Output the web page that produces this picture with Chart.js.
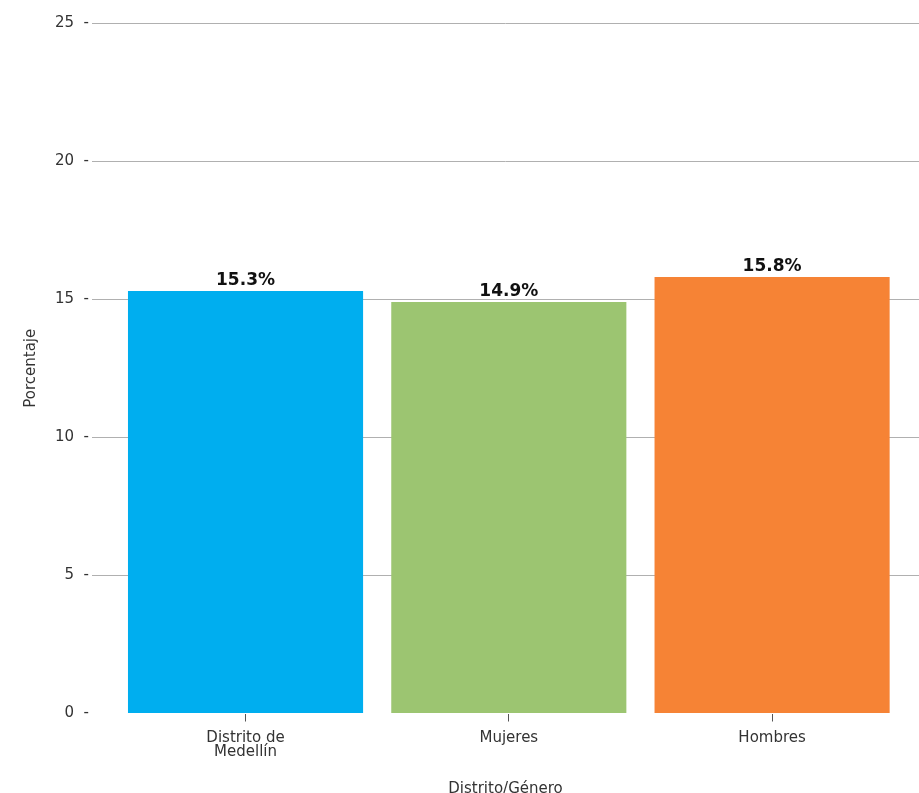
<!DOCTYPE html>
<html>
<head>
<meta charset="utf-8">
<script src="https://cdn.jsdelivr.net/npm/chart.js@4"></script>
<style>
  html, body { margin: 0; padding: 0; background: #fff; overflow: hidden; height: 793px; }
  #wrap { width: 919px; height: 798px; }
</style>
</head>
<body>
<div id="wrap"><canvas id="myChart"></canvas></div>
<script>
var labels = [["Distrito de", "Medellín"], "Mujeres", "Hombres"];
var values = [15.3, 14.9, 15.8];
var colors = ["#00AEEF", "#9CC571", "#F68335"];
var yTicks = [0, 5, 10, 15, 20, 25];

var fontFam = "'DejaVu Sans', sans-serif";

// draws "15.3%" on top of each bar
var barLabels = {
  id: "barLabels",
  afterDatasetsDraw: function(chart) {
    var c = chart.ctx;
    var meta = chart.getDatasetMeta(0);
    c.save();
    c.font = "bold 17px " + fontFam;
    c.fillStyle = "#111";
    c.textAlign = "center";
    c.textBaseline = "bottom";
    meta.data.forEach(function(bar, i) {
      c.fillText(values[i].toFixed(1) + "%", bar.x, bar.y - 2);
    });
    c.restore();
  }
};

var ctx = document.getElementById("myChart");
var myChart = new Chart(ctx, {
  type: "bar",
  data: {
    datasets: [{
      data: values.map(function(v, i) { return { x: i, y: v }; }),
      backgroundColor: colors,
      borderWidth: 0,
      barPercentage: 0.893,
      categoryPercentage: 1
    }]
  },
  options: {
    responsive: true,
    maintainAspectRatio: false,
    animation: false,
    layout: { padding: { top: 23, left: 22, right: 0, bottom: 0 } },
    plugins: { legend: { display: false }, tooltip: { enabled: false } },
    scales: {
      x: {
        type: "linear",
        offset: false,
        min: -0.583,
        max: 2.558,
        border: { display: false },
        grid: { offset: false, drawOnChartArea: false, drawTicks: true, tickLength: 8, color: "#555" },
        ticks: {
          stepSize: 1,
          includeBounds: false,
          autoSkip: false,
          maxRotation: 0,
          color: "#333",
          padding: 9,
          font: { family: fontFam, size: 15, lineHeight: 0.95 },
          callback: function(v) { return labels[v] !== undefined && Number.isInteger(v) ? labels[v] : ""; }
        },
        title: {
          display: true,
          text: "Distrito/Género",
          color: "#333",
          font: { family: fontFam, size: 15 },
          padding: { top: 12, bottom: 0 }
        }
      },
      y: {
        min: 0,
        max: 25,
        afterBuildTicks: function(scale) { scale.ticks = yTicks.map(function(v) { return { value: v }; }); },
        border: { display: false },
        grid: {
          drawTicks: false,
          color: function(c) { return c.tick && c.tick.value === 0 ? "rgba(0,0,0,0)" : "#b0b0b0"; }
        },
        ticks: {
          color: "#333",
          padding: 3,
          font: { family: fontFam, size: 15 },
          callback: function(v) { return v + "  -"; }
        },
        title: {
          display: true,
          text: "Porcentaje",
          color: "#333",
          font: { family: fontFam, size: 15 },
          padding: { top: 0, bottom: 12 }
        }
      }
    }
  },
  plugins: [barLabels]
});
</script>
</body>
</html>
